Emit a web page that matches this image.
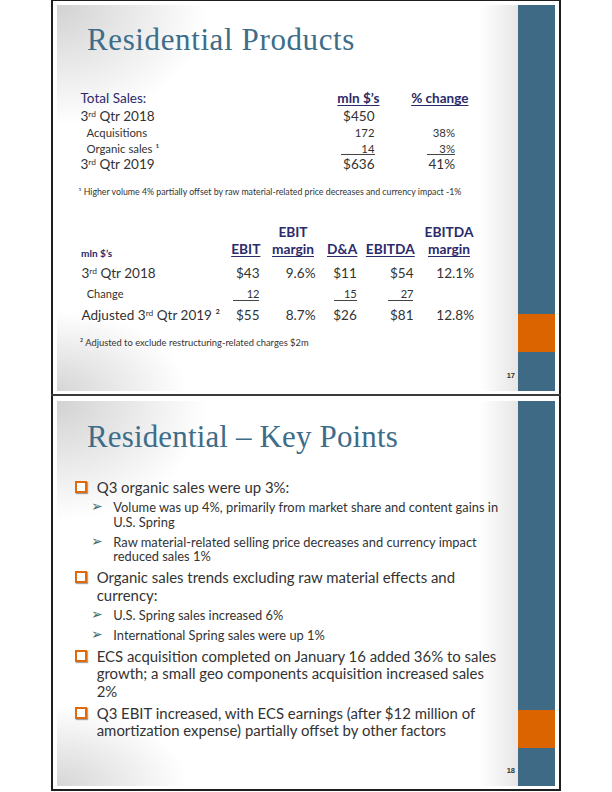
<!DOCTYPE html>
<html>
<head>
<meta charset="utf-8">
<title>Residential Products</title>
<script src="https://cdn.jsdelivr.net/npm/chart.js@4.4.1/dist/chart.umd.min.js"></script>
<style>
html, body { margin: 0; padding: 0; background: #fff; }
body { width: 612px; height: 792px; position: relative; overflow: hidden; color: #333; }
.frame { position: absolute; left: 51px; top: -1px; width: 506px; height: 788px; border: 2px solid #1e1e1e; }
.divider { position: absolute; left: 51px; top: 394px; width: 510px; height: 2px; background: #3a3a3a; }
.slide {
    position: absolute; left: 57px; width: 498px;
    background:
        radial-gradient(ellipse 150px 120px at 0 0, #d2d2d2, rgba(255,255,255,0)),
        radial-gradient(ellipse 130px 80px at 0 100%, #d6d6d6, rgba(255,255,255,0)),
        linear-gradient(to left, #e6e6e6 37px, rgba(255,255,255,0) 75px),
        #fff;
}
.bar { position: absolute; left: 461px; width: 37px; top: 0; bottom: 0; background: #3e6a85; }
.bar .accent { position: absolute; left: 0; right: 0; top: 309px; height: 38px; background: #dc6400; }
.t { position: absolute; white-space: nowrap; }
.t sup { font-size: .62em; vertical-align: .5em; line-height: 0; }
.rule { position: absolute; height: 1px; background: #444; }
.box { position: absolute; width: 8px; height: 8px; border: 2px solid #e0690c; background: #fff;
       box-shadow: 1px 1px 1px rgba(0,0,0,.35); }
</style>
</head>
<body>
<div class="frame"></div>
<div class="divider"></div>
<div class="slide" style="top:5px;height:386px"><div class="bar"><div class="accent"></div></div></div>
<div class="slide" style="top:401px;height:385px"><div class="bar"><div class="accent"></div></div></div>

<script>
// Slide 17 - total sales bridge
const salesLabels = ['3rd Qtr 2018', 'Acquisitions', 'Organic sales ¹', '3rd Qtr 2019'];
const salesValues = [450, 172, 14, 636];
const salesChange = [null, 38, 3, 41];
const salesFootnote = '¹ Higher volume 4% partially offset by raw material-related price decreases and currency impact -1%';

// Slide 17 - earnings table
const earnHeadTop = ['', 'EBIT', '', '', 'EBITDA'];
const earnHead = ['EBIT', 'margin', 'D&A', 'EBITDA', 'margin'];
const earnLabels = ['3rd Qtr 2018', 'Change', 'Adjusted 3rd Qtr 2019 ²'];
const ebit = [43, 12, 55];
const ebitMargin = [9.6, null, 8.7];
const da = [11, 15, 26];
const ebitda = [54, 27, 81];
const ebitdaMargin = [12.1, null, 12.8];
const earnFootnote = '² Adjusted to exclude restructuring-related charges $2m';

// Slide 18 - key points (level, lines)
const keyPoints = [
    [1, ['Q3 organic sales were up 3%:']],
    [2, ['Volume was up 4%, primarily from market share and content gains in', 'U.S. Spring']],
    [2, ['Raw material-related selling price decreases and currency impact', 'reduced sales 1%']],
    [1, ['Organic sales trends excluding raw material effects and', 'currency:']],
    [2, ['U.S. Spring sales increased 6%']],
    [2, ['International Spring sales were up 1%']],
    [1, ['ECS acquisition completed on January 16 added 36% to sales', 'growth; a small geo components acquisition increased sales', '2%']],
    [1, ['Q3 EBIT increased, with ECS earnings (after $12 million of', 'amortization expense) partially offset by other factors']]
];

const NAVY = '#2b2a6b';
const TITLE = '#3d6d89';
const SANS = 'Lato, "Open Sans", sans-serif';
const SERIF = '"Liberation Serif", "DejaVu Serif", serif';

const ctx = document.createElement('canvas').getContext('2d');
function textWidth(text, font) {
    ctx.font = font;
    return ctx.measureText(text).width;
}

// font size that makes a line of Lato as wide as the reference line
function fitSize(text, target, weight) {
    return 100 * target / textWidth(text, (weight || 400) + ' 100px ' + SANS);
}

// Calibri px -> Lato px, from the first key point line (193px wide, ~16.3px Calibri)
const k = fitSize('Q3 organic sales were up 3%:', 193) / 16.3;

function sup(s) {
    return s.replace(/(\d)(rd)\b/g, '$1<sup>$2</sup>');
}

// place text with its baseline at y
function put(html, x, y, o) {
    const el = document.createElement('div');
    el.className = 't';
    el.style.font = (o.weight || 400) + ' ' + o.size + 'px ' + (o.family || SANS);
    el.style.lineHeight = o.size + 'px';
    el.style.color = o.color || '#333';
    if (o.ls) el.style.letterSpacing = o.ls + 'px';
    if (o.underline) {
        el.style.textDecoration = 'underline';
        el.style.textDecorationThickness = '1px';
        el.style.textUnderlineOffset = '2px';
    }
    if (o.align === 'right') {
        el.style.left = (x - 300) + 'px'; el.style.width = '300px'; el.style.textAlign = 'right';
    } else if (o.align === 'center') {
        el.style.left = (x - 150) + 'px'; el.style.width = '300px'; el.style.textAlign = 'center';
    } else {
        el.style.left = x + 'px';
    }
    el.innerHTML = html + '<span style="display:inline-block;width:0;height:0;vertical-align:baseline"></span>';
    el.style.top = '0px';
    document.body.appendChild(el);
    const probe = el.lastChild.getBoundingClientRect().bottom - el.getBoundingClientRect().top;
    el.style.top = (y - probe) + 'px';
    return el;
}

function rule(x1, x2, y) {
    const r = document.createElement('div');
    r.className = 'rule';
    r.style.left = x1 + 'px';
    r.style.width = (x2 - x1) + 'px';
    r.style.top = y + 'px';
    document.body.appendChild(r);
}

function title(text, x, y, width) {
    const size = 31;
    const w = textWidth(text, size + 'px ' + SERIF);
    put(text, x, y, { size: size, family: SERIF, color: TITLE, ls: (width - w) / text.length });
}

function drawSlide17() {
    title('Residential Products', 87, 50, 268);

    // sales bridge
    const big = 14.8 * k, small = 12.4 * k;
    put('Total Sales:', 80.5, 103.3, { size: big, color: NAVY });
    put('mln $’s', 379.5, 103.3, { size: big, weight: 700, color: NAVY, align: 'right', underline: true });
    put('% change', 468.5, 103.3, { size: big, weight: 700, color: NAVY, align: 'right', underline: true });

    const rows = [120.7, 137.3, 152.7, 169.3];
    salesLabels.forEach((label, i) => {
        const total = i === 0 || i === salesLabels.length - 1;
        const size = total ? big : small;
        put(sup(label), total ? 80.5 : 86.5, rows[i], { size: size });
        put((total ? '$' : '') + salesValues[i], 374.5, rows[i], { size: size, align: 'right' });
        if (salesChange[i] !== null) {
            put(salesChange[i] + '%', 455, rows[i], { size: size, align: 'right' });
        }
    });
    rule(341, 375, 154);
    rule(427, 455, 154);
    put(salesFootnote, 78.5, 195, { size: fitSize(salesFootnote, 385) });

    // earnings table
    const head = 15 * k;
    const centers = [245.8, 293, 342.2, 390.3, 449];
    const rights = [259.5, 316, 356.8, 413.5, 474.5];
    earnHeadTop.forEach((h, c) => {
        if (h) put(h, centers[c], 236.7, { size: head, weight: 700, color: NAVY, align: 'center' });
    });
    earnHead.forEach((h, c) => {
        put(h, centers[c], 254.3, { size: head, weight: 700, color: NAVY, align: 'center', underline: true });
    });
    put('mln $’s', 81, 256.7, { size: 11 * k, weight: 700, color: NAVY });

    const cols = [
        v => '$' + v, v => v.toFixed(1) + '%', v => '$' + v, v => '$' + v, v => v.toFixed(1) + '%'
    ];
    const series = [ebit, ebitMargin, da, ebitda, ebitdaMargin];
    const lines = [277.7, 297.7, 320];
    earnLabels.forEach((label, r) => {
        const detail = r === 1;
        const size = detail ? 12.1 * k : big;
        put(sup(label), detail ? 86.7 : 81.5, lines[r], { size: size });
        series.forEach((s, c) => {
            if (s[r] === null) return;
            const text = detail ? String(s[r]) : cols[c](s[r]);
            put(text, rights[c] - (c === 1 || c === 4 ? 0.5 : 0), lines[r], { size: size, align: 'right' });
        });
    });
    rule(233.3, 259.5, 300);
    rule(334, 356.8, 300);
    rule(387.7, 413.5, 300);
    put(earnFootnote, 80, 346, { size: fitSize(earnFootnote, 229) });

    put('17', 515, 377.7, { size: 7.5, weight: 700, family: '"Liberation Sans", Arial, sans-serif', align: 'right' });
}

function drawSlide18() {
    title('Residential – Key Points', 87, 447.3, 311);

    const size1 = fitSize(keyPoints[0][1][0], 193);
    const size2 = fitSize(keyPoints[1][1][0], 386);
    let y = 492.7;
    keyPoints.forEach(([level, lines], i) => {
        if (i > 0) y += level === 1 ? 21.8 : 19.7;
        if (level === 1) {
            const b = document.createElement('div');
            b.className = 'box';
            b.style.left = '75px';
            b.style.top = (y - 11.5) + 'px';
            document.body.appendChild(b);
        } else {
            put('➢', 91, y - 1, { size: 14, family: '"DejaVu Sans", sans-serif', color: '#3f6a6c' });
        }
        lines.forEach((line, j) => {
            if (j > 0) y += level === 1 ? 17.6 : 14.5;
            put(line, level === 1 ? 96.7 : 113.3, y, { size: level === 1 ? size1 : size2 });
        });
    });

    put('18', 515, 773, { size: 7.5, weight: 700, family: '"Liberation Sans", Arial, sans-serif', align: 'right' });
}

drawSlide17();
drawSlide18();
</script>
</body>
</html>
